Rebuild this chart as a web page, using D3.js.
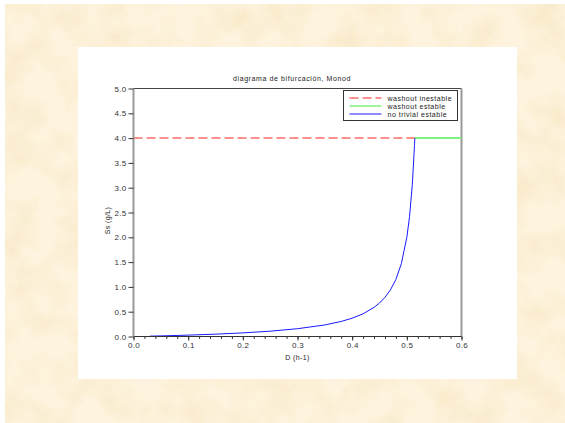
<!DOCTYPE html>
<html>
<head>
<meta charset="utf-8">
<script src="https://cdn.jsdelivr.net/npm/d3@7"></script>
<style>
  body { margin: 0; background: #fff; }
  svg { display: block; font-family: "Liberation Sans", Arial, sans-serif; }
</style>
</head>
<body>
<svg width="565" height="423"></svg>
<script>
// Data
var dValues = [0.03, 0.05, 0.08, 0.10, 0.15, 0.20, 0.25, 0.30, 0.35, 0.38, 0.40, 0.42,
  0.44, 0.45, 0.46, 0.47, 0.48, 0.49, 0.50, 0.505, 0.51, 0.514, 0.5146];
var ssValues = [0.007, 0.012, 0.021, 0.028, 0.047, 0.073, 0.107, 0.157, 0.233, 0.304, 0.369, 0.458,
  0.587, 0.675, 0.789, 0.94, 1.15, 1.47, 2.0, 2.42, 3.06, 3.85, 4.0];
var washoutUnstableD = [0, 0.5146];
var washoutStableD = [0.5146, 0.6];
var washoutSs = 4.0;
var xTicks = [0, 0.1, 0.2, 0.3, 0.4, 0.5, 0.6];
var yTicks = [0, 0.5, 1, 1.5, 2, 2.5, 3, 3.5, 4, 4.5, 5];
var legendLabels = ["washout inestable", "washout estable", "no trivial estable"];

var svg = d3.select('svg');

// Parchment background
var defs = svg.append("defs");
var filt = defs.append("filter").attr("id", "paper")
  .attr("x", 0).attr("y", 0).attr("width", "100%").attr("height", "100%");
filt.append("feTurbulence")
  .attr("type", "fractalNoise")
  .attr("baseFrequency", "0.03")
  .attr("numOctaves", 4)
  .attr("seed", 7);
filt.append("feColorMatrix")
  .attr("type", "matrix")
  .attr("values", "0 0 0 0 0.95  0 0 0 0 0.83  0 0 0 0 0.6  2.6 0 0 0 -1.0");

svg.append("rect").attr("x", 5).attr("y", 4).attr("width", 560).attr("height", 419)
  .attr("fill", "#fef3de");
svg.append("rect").attr("x", 5).attr("y", 4).attr("width", 560).attr("height", 419)
  .attr("filter", "url(#paper)").attr("opacity", 0.85);

// White figure panel
svg.append("rect").attr("x", 78).attr("y", 47).attr("width", 439).attr("height", 332)
  .attr("fill", "#fff");

// Scales
var x = d3.scaleLinear().domain([0, 0.6]).range([133.5, 461.5]);
var y = d3.scaleLinear().domain([0, 5]).range([336.5, 88.5]);

// Frame: top and right
svg.append("line").attr("x1", x(0)).attr("x2", x(0.6)).attr("y1", y(5)).attr("y2", y(5))
  .attr("stroke", "#444").attr("stroke-width", 1);
svg.append("line").attr("x1", x(0.6)).attr("x2", x(0.6)).attr("y1", y(5)).attr("y2", y(0))
  .attr("stroke", "#999").attr("stroke-width", 2);

// Lines
var line = d3.line().x(d => x(d[0])).y(d => y(d[1]));

svg.append("path")
  .datum(washoutUnstableD.map(d => [d, washoutSs]))
  .attr("d", line)
  .attr("fill", "none")
  .attr("stroke", "#ff9090")
  .attr("stroke-width", 2)
  .attr("stroke-dasharray", "9,4");

svg.append("path")
  .datum(washoutStableD.map(d => [d, washoutSs]))
  .attr("d", line)
  .attr("fill", "none")
  .attr("stroke", "#80f080")
  .attr("stroke-width", 2);

svg.append("path")
  .datum(dValues.map((d, i) => [d, ssValues[i]]))
  .attr("d", line)
  .attr("fill", "none")
  .attr("stroke", "#1a1aff")
  .attr("stroke-width", 1);

// X axis with minor ticks
var xMinor = d3.range(0, 31).map(i => i * 0.02);
svg.append("g")
  .attr("transform", "translate(0," + y(0) + ")")
  .call(d3.axisBottom(x).tickValues(xMinor).tickSize(2.5).tickFormat(""))
  .call(g => g.select(".domain").remove())
  .selectAll("line").attr("stroke", "#333");

var xAxis = svg.append("g")
  .attr("transform", "translate(0," + y(0) + ")")
  .call(d3.axisBottom(x).tickValues(xTicks).tickSize(4).tickPadding(2).tickFormat(d3.format(".1f")));
xAxis.select(".domain").attr("stroke", "#333").attr("d", "M" + x(0) + ",0H" + x(0.6));
xAxis.selectAll("line").attr("stroke", "#333");
xAxis.selectAll("text").attr("fill", "#333").style("font-size", "8px").style("letter-spacing", "0.3px");

// Y axis
var yAxis = svg.append("g")
  .attr("transform", "translate(" + x(0) + ",0)")
  .call(d3.axisLeft(y).tickValues(yTicks).tickSize(5).tickPadding(2).tickFormat(d3.format(".1f")));
yAxis.select(".domain").attr("stroke", "#999").attr("stroke-width", 2).attr("d", "M0," + y(0) + "V" + y(5));
yAxis.selectAll("line").attr("stroke", "#333");
yAxis.selectAll("text").attr("fill", "#333").style("font-size", "8px").style("letter-spacing", "0.3px");

// Title and axis labels
svg.append("text")
  .attr("x", 292).attr("y", 81)
  .attr("text-anchor", "middle")
  .style("font-size", "7px")
  .style("letter-spacing", "0.6px")
  .attr("fill", "#222")
  .text("diagrama de bifurcación, Monod");

svg.append("text")
  .attr("x", (x(0) + x(0.6)) / 2).attr("y", 360)
  .attr("text-anchor", "middle")
  .style("font-size", "7px")
  .style("letter-spacing", "0.4px")
  .attr("fill", "#222")
  .text("D (h-1)");

svg.append("text")
  .attr("transform", "translate(110," + (y(2.5) + 8) + ") rotate(-90)")
  .attr("text-anchor", "middle")
  .style("font-size", "7px")
  .style("letter-spacing", "0.4px")
  .attr("fill", "#222")
  .text("Ss (g/L)");

// Legend
var legend = svg.append("g").attr("transform", "translate(343.5,90.5)");
legend.append("rect").attr("width", 114).attr("height", 30)
  .attr("fill", "#fff").attr("stroke", "#333").attr("stroke-width", 1);
var legendStyles = [
  { stroke: "#ff9090", width: 2, dash: "9,4" },
  { stroke: "#80f080", width: 1.5, dash: null },
  { stroke: "#1a1aff", width: 1, dash: null }
];
var items = legend.selectAll(".item").data(legendLabels).enter().append("g")
  .attr("transform", (d, i) => "translate(0," + (7.5 + i * 8) + ")");
items.append("line")
  .attr("x1", 6).attr("x2", 38)
  .attr("stroke", (d, i) => legendStyles[i].stroke)
  .attr("stroke-width", (d, i) => legendStyles[i].width)
  .attr("stroke-dasharray", (d, i) => legendStyles[i].dash);
items.append("text")
  .attr("x", 44).attr("y", 2.5)
  .style("font-size", "7px")
  .style("letter-spacing", "0.5px")
  .attr("fill", "#222")
  .text(d => d);
</script>
</body>
</html>
